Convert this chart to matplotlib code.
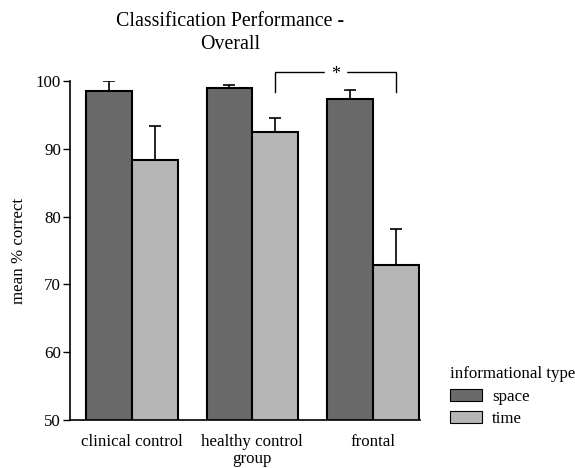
import matplotlib
matplotlib.use("Agg")
import matplotlib.pyplot as plt
import numpy as np
from matplotlib.patches import Patch

groups = ["clinical control", "healthy control\ngroup", "frontal"]
space_mean = [98.5, 98.9, 97.3]
space_err = [1.5, 0.5, 1.3]
time_mean = [88.3, 92.5, 72.8]
time_err = [5.1, 2.1, 5.4]
yticks = [50, 60, 70, 80, 90, 100]

plt.rcParams['font.family'] = ['Liberation Serif', 'DejaVu Serif']
FS = 12.2

fig = plt.figure(figsize=(5.75, 4.68), dpi=100)
ax = fig.add_axes([70/575, 1-420/468, 350/575, 339/468])

x = np.arange(len(groups))
w = 0.38
c_space = '#6a6a6a'
c_time = '#b6b6b6'
ax.bar(x - w/2, space_mean, w, color=c_space, edgecolor='black', linewidth=1.5, zorder=2)
ax.bar(x + w/2, time_mean, w, color=c_time, edgecolor='black', linewidth=1.5, zorder=2)
ax.errorbar(x - w/2, space_mean, yerr=[np.zeros(3), space_err], fmt='none', ecolor='black',
            elinewidth=1.2, capsize=4, capthick=1.2, zorder=1)
ax.errorbar(x + w/2, time_mean, yerr=[np.zeros(3), time_err], fmt='none', ecolor='black',
            elinewidth=1.2, capsize=4, capthick=1.2, zorder=1)

ax.set_ylim(50, 100)
ax.set_xlim(-0.512, 2.39)
ax.set_yticks(yticks)
ax.set_xticks(x)
ax.set_xticklabels(groups, fontsize=FS, linespacing=1.08)
ax.tick_params(axis='x', length=0, pad=10)
ax.tick_params(axis='y', direction='out', length=5, width=1, labelsize=FS, pad=1.5)
for s in ['top', 'right']:
    ax.spines[s].set_visible(False)
for s in ['left', 'bottom']:
    ax.spines[s].set_linewidth(1.2)
ax.set_ylabel("mean % correct", fontsize=FS, labelpad=6)

# significance bracket
x1, x2 = x[1] + w/2, x[2] + w/2
ax.plot([x1, x1, x2, x2], [98.4, 101.3, 101.3, 98.4], color='black', lw=1, clip_on=False)
ax.text((x1 + x2)/2, 101.0, "*", ha='center', va='center', fontsize=13,
        backgroundcolor='white', clip_on=False)

fig.text(230/575, 1-33/468, "Classification Performance -\nOverall", ha='center', va='center',
         fontsize=14.3, linespacing=1.25)

handles = [Patch(facecolor=c_space, edgecolor='black', linewidth=0.8, label='space'),
           Patch(facecolor=c_time, edgecolor='black', linewidth=0.8, label='time')]
leg = fig.legend(handles=handles, title="informational type", loc='upper left',
                 bbox_to_anchor=(443/575, 1-359/468), frameon=False, fontsize=FS,
                 title_fontsize=FS, handlelength=1.9, handleheight=0.7,
                 handletextpad=0.6, labelspacing=0.4, borderaxespad=0)
leg._legend_box.align = "left"

fig.savefig("out.png", dpi=100)
